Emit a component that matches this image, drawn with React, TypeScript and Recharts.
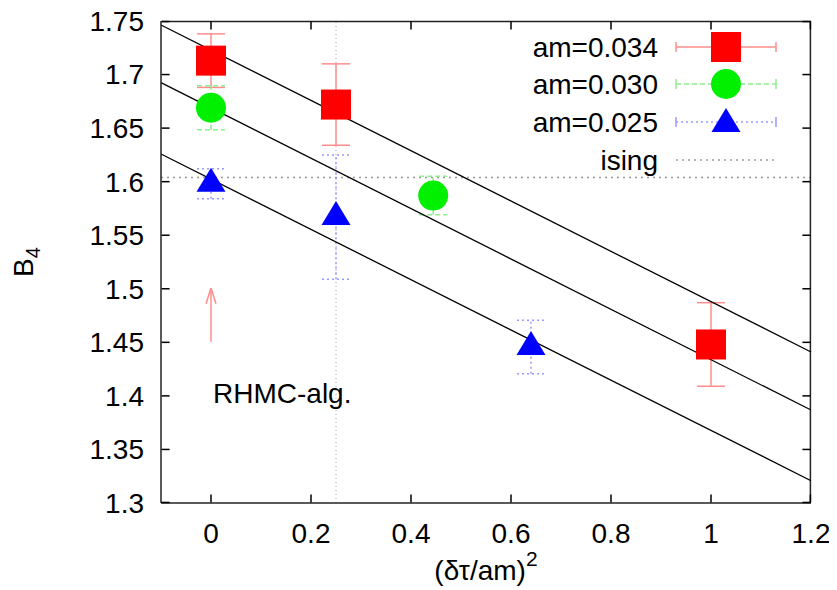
import React from 'react';
import { ComposedChart, Scatter, Line, XAxis, YAxis, ErrorBar, ReferenceLine, Legend } from 'recharts';

const FONT = '"Liberation Sans", Arial, Helvetica, sans-serif';
const FS = 28;

const xDomain = [-0.1, 1.2];
const yDomain = [1.3, 1.75];
const xTicks = [0, 0.2, 0.4, 0.6, 0.8, 1, 1.2];
const yTicks = [1.3, 1.35, 1.4, 1.45, 1.5, 1.55, 1.6, 1.65, 1.7, 1.75];

// (dtau/am)^2 and B4 per mass
const xAm034 = [0, 0.25, 1];
const b4Am034 = [1.713, 1.672, 1.448];
const errAm034 = [0.025, 0.038, 0.039];

const xAm030 = [0, 0.4444];
const b4Am030 = [1.669, 1.587];
const errAm030 = [0.0205, 0.018];

const xAm025 = [0, 0.25, 0.64];
const b4Am025 = [1.598, 1.567, 1.4456];
const errAm025 = [0.014, 0.058, 0.025];

const isingB4 = 1.604;
const markX = 0.25;

// fit lines, values at the domain ends
const fitX = [-0.1, 1.2];
const fitTop = [1.7463, 1.441];
const fitMid = [1.6924, 1.3868];
const fitLow = [1.6258, 1.3208];

// annotation
const arrowX = 0;
const arrowFrom = 1.4506;
const arrowTo = 1.5007;
const arrowHeadDx = 0.01;
const arrowHeadY = 1.486;
const noteX = 0.004;
const noteY = 1.3933;
const noteText = 'RHMC-alg.';

const toPoints = (xs: number[], ys: number[], errs: number[]) =>
  xs.map((x, i) => ({ x, y: ys[i], err: errs[i] }));

const am034 = toPoints(xAm034, b4Am034, errAm034);
const am030 = toPoints(xAm030, b4Am030, errAm030);
const am025 = toPoints(xAm025, b4Am025, errAm025);
const note = [{ x: noteX, y: noteY }];

// box edges pulled in by a hair so they stay inside the plotted range
const epsX = 0.0012;
const epsY = 0.0005;
const xLo = xDomain[0] + epsX;
const xHi = xDomain[1] - epsX;
const yLo = yDomain[0] + epsY;
const yHi = yDomain[1] - epsY;

const frame = [
  { x: xLo, y: yHi },
  { x: xHi, y: yHi },
  { x: xHi, y: yLo },
];
const topTicks = xTicks.map((t) => ({ x: Math.min(t, xHi), y: yHi }));
const bottomTicks = xTicks.map((t) => ({ x: Math.min(t, xHi), y: yLo }));
const rightTicks = yTicks.map((t) => ({ x: xHi, y: Math.min(Math.max(t, yLo), yHi) }));
const leftTicks = yTicks.map((t) => ({ x: xLo, y: Math.min(Math.max(t, yLo), yHi) }));

const RED = '#ff0000';
const GREEN = '#00f000';
const BLUE = '#0000ff';
const RED_ERR = '#ff8c8c';
const GREEN_ERR = '#8cf08c';
const BLUE_ERR = '#9999ff';
const FRAME = '#222';

const Square = (p: any) => <rect x={p.cx - 15} y={p.cy - 15} width={30} height={30} fill={RED} />;
const Circle = (p: any) => <circle cx={p.cx} cy={p.cy} r={15} fill={GREEN} />;
const Triangle = (p: any) => (
  <polygon points={`${p.cx},${p.cy - 16} ${p.cx - 14.5},${p.cy + 8} ${p.cx + 14.5},${p.cy + 8}`} fill={BLUE} />
);
const Note = (p: any) => (
  <text x={p.cx} y={p.cy} fontSize={FS} fontFamily={FONT} fill="#000">{noteText}</text>
);
const TopTick = (p: any) => <line x1={p.cx} y1={p.cy} x2={p.cx} y2={p.cy + 8} stroke="#000" strokeWidth={1.5} />;
const BottomTick = (p: any) => <line x1={p.cx} y1={p.cy} x2={p.cx} y2={p.cy - 8} stroke="#000" strokeWidth={1.5} />;
const RightTick = (p: any) => <line x1={p.cx} y1={p.cy} x2={p.cx - 8} y2={p.cy} stroke="#000" strokeWidth={1.5} />;
const LeftTick = (p: any) => <line x1={p.cx} y1={p.cy} x2={p.cx + 8} y2={p.cy} stroke="#000" strokeWidth={1.5} />;

const fmt = (v: number) => String(Number(v.toFixed(2)));

const legendRows = [
  { label: 'am=0.034', color: RED_ERR, dash: undefined, caps: true, mark: 'square' },
  { label: 'am=0.030', color: GREEN_ERR, dash: '5 3', caps: true, mark: 'circle' },
  { label: 'am=0.025', color: BLUE_ERR, dash: '2 3', caps: true, mark: 'triangle' },
  { label: 'ising', color: '#999', dash: '2 4', caps: false, mark: 'none' },
];
const legendRowY = [20, 57, 95, 133];

const renderLegend = () => (
  <svg width={300} height={160} style={{ display: 'block' }}>
    {legendRows.map((r, i) => {
      const y = legendRowY[i];
      return (
        <g key={r.label}>
          <text x={178} y={y} dy="0.36em" textAnchor="end" fontSize={FS} fontFamily={FONT} fill="#000">
            {r.label}
          </text>
          <line x1={196} y1={y} x2={296} y2={y} stroke={r.color} strokeWidth={1.5} strokeDasharray={r.dash} />
          {r.caps && (
            <>
              <line x1={196} y1={y - 5} x2={196} y2={y + 5} stroke={r.color} strokeWidth={1.5} />
              <line x1={296} y1={y - 5} x2={296} y2={y + 5} stroke={r.color} strokeWidth={1.5} />
            </>
          )}
          {r.mark === 'square' && <Square cx={246} cy={y} />}
          {r.mark === 'circle' && <Circle cx={246} cy={y} />}
          {r.mark === 'triangle' && <Triangle cx={246} cy={y + 2} />}
        </g>
      );
    })}
  </svg>
);

const YTitle = (p: any) => {
  const vb = p.viewBox || { x: 0, y: 13, height: 482 };
  const x = vb.x + 25;
  const y = vb.y + vb.height / 2;
  return (
    <text x={x} y={y} transform={`rotate(-90 ${x} ${y})`} textAnchor="middle" fontSize={FS} fontFamily={FONT} fill="#000">
      B<tspan fontSize={20} dy={7}>4</tspan>
    </text>
  );
};

const XTitle = (p: any) => {
  const vb = p.viewBox || { x: 153, y: 495, width: 650 };
  const x = vb.x + vb.width / 2;
  const y = vb.y + 77;
  return (
    <text x={x} y={y} textAnchor="middle" fontSize={FS} fontFamily={FONT} fill="#000">
      (δτ/am)<tspan fontSize={21} dy={-14}>2</tspan>
    </text>
  );
};

const axisStroke = { stroke: FRAME, strokeWidth: 1.5 };
const tickStyle = { fill: '#000', fontSize: FS, fontFamily: FONT };

export default function App() {
  return (
    <ComposedChart width={821} height={582} margin={{ top: 13, right: 18, bottom: 0, left: 0 }}>
      <XAxis
        type="number"
        dataKey="x"
        domain={xDomain}
        ticks={xTicks}
        interval={0}
        tickFormatter={fmt}
        height={87}
        tickSize={0}
        tickMargin={20}
        axisLine={axisStroke}
        tickLine={false}
        tick={tickStyle}
        label={{ content: XTitle }}
      />
      <YAxis
        type="number"
        dataKey="y"
        domain={yDomain}
        ticks={yTicks}
        interval={0}
        tickFormatter={fmt}
        width={153}
        tickSize={0}
        tickMargin={17}
        axisLine={axisStroke}
        tickLine={false}
        tick={tickStyle}
        label={{ content: YTitle }}
      />

      <ReferenceLine x={markX} stroke="#a0a0c8" strokeWidth={1} strokeDasharray="1 3" />
      <ReferenceLine y={isingB4} stroke="#999" strokeWidth={1.5} strokeDasharray="2 4" />

      <Line data={frame} dataKey="y" type="linear" stroke={FRAME} strokeWidth={1.5} dot={false} isAnimationActive={false} />
      <Scatter data={topTicks} shape={TopTick} isAnimationActive={false} />
      <Scatter data={bottomTicks} shape={BottomTick} isAnimationActive={false} />
      <Scatter data={rightTicks} shape={RightTick} isAnimationActive={false} />
      <Scatter data={leftTicks} shape={LeftTick} isAnimationActive={false} />

      <Scatter data={am034} shape={Square} isAnimationActive={false}>
        <ErrorBar dataKey="err" direction="y" width={14} stroke={RED_ERR} strokeWidth={1.5} />
      </Scatter>
      <Scatter data={am030} shape={Circle} isAnimationActive={false}>
        <ErrorBar dataKey="err" direction="y" width={14} stroke={GREEN_ERR} strokeWidth={1.5} strokeDasharray="5 3" />
      </Scatter>
      <Scatter data={am025} shape={Triangle} isAnimationActive={false}>
        <ErrorBar dataKey="err" direction="y" width={14} stroke={BLUE_ERR} strokeWidth={1.5} strokeDasharray="2 3" />
      </Scatter>
      <Scatter data={note} shape={Note} isAnimationActive={false} />

      {[fitTop, fitMid, fitLow].map((f, i) => (
        <ReferenceLine
          key={i}
          segment={[{ x: fitX[0], y: f[0] }, { x: fitX[1], y: f[1] }]}
          stroke="#000"
          strokeWidth={1.3}
          ifOverflow="visible"
        />
      ))}

      <ReferenceLine segment={[{ x: arrowX, y: arrowFrom }, { x: arrowX, y: arrowTo }]} stroke={RED_ERR} strokeWidth={1.5} />
      <ReferenceLine segment={[{ x: arrowX - arrowHeadDx, y: arrowHeadY }, { x: arrowX, y: arrowTo }]} stroke={RED_ERR} strokeWidth={1.5} />
      <ReferenceLine segment={[{ x: arrowX + arrowHeadDx, y: arrowHeadY }, { x: arrowX, y: arrowTo }]} stroke={RED_ERR} strokeWidth={1.5} />

      <Legend
        layout="vertical"
        align="center"
        verticalAlign="middle"
        width={300}
        height={160}
        content={renderLegend}
        wrapperStyle={{ position: 'absolute', top: 19, left: 472, width: 300, height: 160 }}
      />
    </ComposedChart>
  );
}
